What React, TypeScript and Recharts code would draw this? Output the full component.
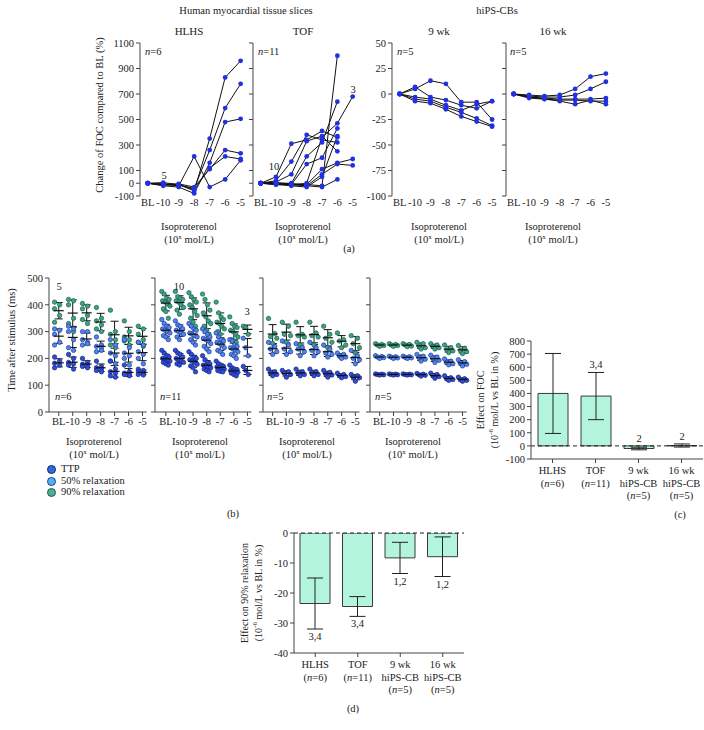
import React from 'react';
import {
  LineChart,
  Line,
  ScatterChart,
  Scatter,
  BarChart,
  Bar,
  XAxis,
  YAxis,
  ErrorBar,
  ReferenceLine,
  LabelList
} from 'recharts';

const conc = ['BL', '-10', '-9', '-8', '-7', '-6', '-5'];

// (a) change of FOC compared to BL (%), one row per slice / CB
const hlhsFoc = [
  [0, -5, -10, -60, 350, 830, 960],
  [0, -10, -15, -40, 260, 590, 780],
  [0, -20, -30, -80, 160, 480, 505],
  [0, -15, -5, -30, 110, 260, 235],
  [0, 5, -10, -50, 120, 210, 190],
  [0, null, -20, 210, -30, 30, 180]
];
const tofFoc = [
  [0, 50, 310, 340, 410, 360, null],
  [0, 20, 170, 380, 340, 320, null],
  [0, 10, 70, 330, 370, 250, null],
  [0, 0, 0, 210, 320, 640, null],
  [0, -10, -10, 150, 200, 430, null],
  [0, 0, -15, 0, 360, 470, 680],
  [0, 5, -5, -10, 110, 160, 190],
  [0, -5, -10, -20, 70, 150, 140],
  [0, -10, -20, -30, 50, 370, null],
  [0, 0, -5, -10, -20, 1000, null],
  [0, null, -10, -20, -30, 30, null]
];
const wk9Foc = [
  [0, 5, 13, 10, -8, -8, -25],
  [0, 7, -3, -6, -11, -14, -7],
  [0, -3, -5, -11, -16, -10, -7],
  [0, -5, -7, -13, -18, -24, -31],
  [0, -7, -9, -15, -22, -27, -32]
];
const wk16Foc = [
  [0, -1, -2, -1, 5, 17, 20],
  [0, -2, -3, -3, -1, 5, 12],
  [0, -3, -4, -5, -5, -5, -4],
  [0, -3, -5, -6, -6, -7, -7],
  [0, -4, -5, -7, -10, -6, -10]
];

// (b) time after stimulus (ms), one row per slice / CB
const hlhs90 = [
  [410, 420, 405, 390, 380, 340, 320],
  [400, 415, 395, 350, 300, 300, 310],
  [385, 400, 385, 340, 290, 280, 290],
  [360, 350, 360, 325, 270, 270, 270],
  [335, 330, 345, 310, 250, 265, 260],
  [null, 300, 330, 300, 240, 250, 245]
];
const hlhs50 = [
  [310, 320, 300, 280, 270, 270, 260],
  [305, 310, 300, 250, 250, 240, 250],
  [290, 300, 270, 245, 220, 220, 225],
  [260, 270, 260, 240, 210, 210, 215],
  [250, 240, 250, 225, 190, 200, 200],
  [null, 230, 255, 230, 180, 175, 180]
];
const hlhsTtp = [
  [205, 215, 200, 190, 190, 175, 160],
  [190, 200, 185, 170, 160, 150, 155],
  [182, 185, 178, 165, 150, 145, 150],
  [175, 180, 175, 160, 145, 140, 145],
  [165, 175, 170, 155, 135, 140, 140],
  [null, 160, 165, 150, 130, 135, 138]
];
const tof90 = [
  [450, 450, 445, 440, 410, 355, 320],
  [440, 430, 430, 420, 370, 330, 315],
  [425, 425, 420, 400, 355, 320, 290],
  [420, 420, 410, 380, 345, 315, null],
  [415, 415, 400, 370, 335, 305, null],
  [410, 410, 390, 355, 330, 300, null],
  [405, 400, 375, 340, 320, 290, null],
  [395, 390, 360, 330, 310, 280, null],
  [385, 380, 350, 320, 300, 270, null],
  [375, 365, 335, 305, 290, 265, null],
  [350, null, 320, 290, 270, 260, null]
];
const tof50 = [
  [345, 340, 330, 310, 295, 270, 275],
  [330, 325, 320, 300, 280, 265, 240],
  [320, 320, 310, 290, 270, 250, 210],
  [315, 310, 305, 280, 265, 245, null],
  [310, 305, 295, 275, 260, 240, null],
  [305, 300, 290, 270, 255, 235, null],
  [300, 295, 285, 265, 250, 230, null],
  [295, 290, 280, 255, 240, 225, null],
  [285, 280, 270, 245, 230, 215, null],
  [280, 270, 260, 235, 225, 210, null],
  [270, null, 250, 225, 215, 200, null]
];
const tofTtp = [
  [230, 230, 225, 210, 190, 175, 170],
  [220, 220, 215, 195, 180, 165, 155],
  [210, 215, 205, 185, 175, 160, 140],
  [205, 205, 200, 180, 170, 158, null],
  [200, 200, 195, 175, 168, 155, null],
  [197, 195, 190, 172, 165, 152, null],
  [193, 190, 185, 168, 162, 150, null],
  [190, 185, 178, 165, 160, 148, null],
  [185, 180, 172, 160, 155, 145, null],
  [180, 175, 165, 155, 152, 140, null],
  [175, null, 150, 150, 150, 135, null]
];
const wk9_90 = [
  [349, 335, 335, 335, 320, 295, 285],
  [293, 320, 290, 295, 290, 270, 275],
  [281, 290, 285, 285, 275, 265, 255],
  [275, 285, 280, 280, 260, 250, 240],
  [256, 260, 250, 250, 240, 240, 220]
];
const wk9_50 = [
  [260, 265, 255, 260, 250, 220, 230],
  [245, 250, 240, 240, 235, 215, 210],
  [235, 235, 235, 230, 220, 210, 200],
  [225, 225, 225, 225, 215, 205, 195],
  [215, 215, 210, 210, 205, 200, 180]
];
const wk9Ttp = [
  [160, 155, 160, 160, 155, 145, 140],
  [150, 150, 150, 150, 148, 140, 135],
  [145, 145, 145, 145, 142, 135, 130],
  [140, 140, 140, 140, 138, 132, 128],
  [135, 130, 135, 135, 130, 128, 115]
];
const wk16_90 = [
  [255, 255, 255, 260, 255, 250, 248],
  [252, 252, 252, 255, 250, 240, 238],
  [250, 250, 250, 245, 245, 232, 230],
  [248, 248, 246, 240, 240, 228, 225],
  [245, 245, 244, 235, 235, 222, 218]
];
const wk16_50 = [
  [210, 208, 208, 215, 212, 198, 195],
  [207, 206, 206, 208, 205, 190, 188],
  [205, 204, 204, 203, 200, 185, 183],
  [203, 202, 202, 197, 193, 180, 178],
  [200, 200, 200, 190, 185, 176, 172]
];
const wk16Ttp = [
  [142, 142, 142, 144, 145, 135, 130],
  [141, 141, 141, 141, 140, 128, 124],
  [140, 140, 140, 139, 136, 124, 120],
  [139, 139, 139, 137, 132, 121, 118],
  [138, 138, 138, 134, 126, 118, 115]
];

// (c), (d) groups
const groupNames = ['HLHS', 'TOF', '9 wk', '16 wk'];
const groupKind = ['', '', 'hiPS-CB', 'hiPS-CB'];
const groupN = [6, 11, 5, 5];
const focEffect = [400, 380, -20, 3];
const focSd = [305, 180, 10, 12];
const focSig = ['', '3,4', '2', '2'];
const relaxEffect = [-23.5, -24.5, -8.3, -7.9];
const relaxSd = [8.5, 3.3, 5.2, 6.6];
const relaxSig = ['3,4', '3,4', '1,2', '1,2'];

const FONT = '"Liberation Serif", "DejaVu Serif", serif';
const AX = '#444';
const TICK = { fill: '#222', fontSize: 10.5, fontFamily: FONT };
const M = 8;
const idx = [0, 1, 2, 3, 4, 5, 6];

const measures = [
  { key: 'r90', fill: '#3da387', stroke: '#1c5e4b' },
  { key: 'r50', fill: '#4f86ea', stroke: '#1f3a9e' },
  { key: 'ttp', fill: '#2f4ddc', stroke: '#17247a' }
];

function box(x0: number, y0: number, x1: number, y1: number, yW: number, xH: number) {
  return {
    position: 'absolute' as const,
    left: x0 - yW,
    top: y0 - M,
    width: x1 - x0 + yW + M,
    height: y1 - y0 + xH + 2 * M
  };
}

function T({ x, y, children, size = 10.5, align = 'center', rot = 0 }: any) {
  const tx = align === 'center' ? '-50%' : align === 'right' ? '-100%' : '0';
  return (
    <div
      style={{
        position: 'absolute',
        left: x,
        top: y,
        transform: `translate(${tx}, -50%) rotate(${rot}deg)`,
        whiteSpace: 'nowrap',
        fontSize: size,
        fontFamily: FONT,
        lineHeight: 1.2,
        textAlign: 'center',
        color: '#222'
      }}
    >
      {children}
    </div>
  );
}

const Iso = ({ x, y }: { x: number; y: number }) => (
  <>
    <T x={x} y={y}>Isoproterenol</T>
    <T x={x} y={y + 13}>
      (10<sup style={{ fontSize: 7 }}>x</sup> mol/L)
    </T>
  </>
);

function FocPlot({ rows, x0, x1, yDomain, yTicks, labels }: any) {
  const yW = 34;
  const xH = 16;
  const b = box(x0, 43, x1, 196, yW, xH);
  const data = conc.map((_, i) => {
    const o: any = { x: i };
    rows.forEach((r: any[], j: number) => (o['s' + j] = r[i]));
    return o;
  });
  return (
    <div style={b}>
      <LineChart width={b.width} height={b.height} data={data} margin={{ top: M, right: M, bottom: M, left: 0 }}>
        <XAxis
          type="number"
          dataKey="x"
          domain={[-0.5, 6.3]}
          ticks={idx}
          interval={0}
          tickFormatter={(i: number) => conc[i]}
          axisLine={false}
          tickLine={false}
          tickSize={0}
          tickMargin={3}
          height={xH}
          tick={TICK}
        />
        <YAxis
          type="number"
          domain={yDomain}
          ticks={yTicks}
          interval={0}
          width={yW}
          stroke={AX}
          tickSize={4}
          tickMargin={2}
          tick={TICK}
          tickFormatter={labels ? undefined : () => ''}
        />
        {rows.map((_: any, j: number) => (
          <Line
            key={j}
            dataKey={'s' + j}
            stroke="#111"
            strokeWidth={1}
            dot={{ r: 2.4, fill: '#2330e0', stroke: 'none' }}
            connectNulls
            isAnimationActive={false}
          />
        ))}
      </LineChart>
    </div>
  );
}

function jitter(j: number, n: number) {
  return (((j * 3) % n) / (n - 1) - 0.5) * 0.6;
}

function points(rows: (number | null)[][]) {
  const out: { x: number; y: number }[] = [];
  rows.forEach((r, j) =>
    r.forEach((v, i) => {
      if (v != null) out.push({ x: i + jitter(j, rows.length), y: v });
    })
  );
  return out;
}

function stats(rows: (number | null)[][]) {
  return conc.map((_, i) => {
    const v = rows.map(r => r[i]).filter((u): u is number => u != null);
    const m = v.reduce((a, c) => a + c, 0) / v.length;
    const sd = Math.sqrt(v.reduce((a, c) => a + (c - m) ** 2, 0) / (v.length - 1));
    return { x: i, y: m, sd };
  });
}

const meanShape = (p: any) => (
  <line x1={p.cx - 5} x2={p.cx + 5} y1={p.cy} y2={p.cy} stroke="#111" strokeWidth={1.2} />
);

function TimePlot({ sets, x0, x1, xMin, labels }: any) {
  const yW = 30;
  const xH = 22;
  const b = box(x0, 278, x1, 412, yW, xH);
  return (
    <div style={b}>
      <ScatterChart width={b.width} height={b.height} margin={{ top: M, right: M, bottom: M, left: 0 }}>
        <XAxis
          type="number"
          dataKey="x"
          domain={[xMin, 6.3]}
          ticks={idx}
          interval={0}
          tickFormatter={(i: number) => conc[i]}
          stroke={AX}
          tickSize={4}
          tickMargin={2}
          height={xH}
          tick={TICK}
        />
        <YAxis
          type="number"
          dataKey="y"
          domain={[0, 500]}
          ticks={[0, 100, 200, 300, 400, 500]}
          interval={0}
          width={yW}
          stroke={AX}
          tickSize={4}
          tickMargin={2}
          tick={TICK}
          tickFormatter={labels ? undefined : () => ''}
        />
        {measures.map(m => (
          <Scatter
            key={m.key}
            data={points(sets[m.key])}
            isAnimationActive={false}
            shape={(p: any) => (
              <circle cx={p.cx} cy={p.cy} r={2.2} fill={m.fill} stroke={m.stroke} strokeWidth={0.7} />
            )}
          />
        ))}
        {measures.map(m => (
          <Scatter key={m.key + 'm'} data={stats(sets[m.key])} isAnimationActive={false} shape={meanShape}>
            <ErrorBar dataKey="sd" direction="y" width={4} stroke="#111" strokeWidth={1} />
          </Scatter>
        ))}
      </ScatterChart>
    </div>
  );
}

const GroupTick = (p: any) => {
  const i = p.index ?? groupNames.indexOf(p.payload.value);
  const lines = [groupNames[i], groupKind[i]].filter(Boolean);
  return (
    <text x={p.x} y={p.y} textAnchor="middle" fontSize={10.5} fontFamily={FONT} fill="#222">
      {lines.map((l, k) => (
        <tspan key={k} x={p.x} dy={k === 0 ? '0.85em' : '1.2em'}>
          {l}
        </tspan>
      ))}
      <tspan x={p.x} dy="1.2em">
        (<tspan fontStyle="italic">n</tspan>={groupN[i]})
      </tspan>
    </text>
  );
};

function sigLabel(vals: number[], sds: number[], above: boolean) {
  return (p: any) => {
    const vb = p.viewBox || {};
    const x = p.x ?? vb.x;
    const y = p.y ?? vb.y;
    const w = p.width ?? vb.width;
    const h = p.height ?? vb.height;
    const i = p.index;
    if (i == null || !p.value) return null;
    const v = vals[i];
    const sd = sds[i];
    const k = Math.abs(h) / Math.abs(v);
    const zero = v >= 0 ? y + h : h < 0 ? y + h : y;
    if (above) {
      const tip = Math.max(v + sd, 0);
      return (
        <text x={x + w / 2} y={zero - tip * k - 4} textAnchor="middle" fontSize={10.5} fontFamily={FONT} fill="#222">
          {p.value}
        </text>
      );
    }
    return (
      <text x={x + w / 2} y={zero + (sd - v) * k + 11} textAnchor="middle" fontSize={10.5} fontFamily={FONT} fill="#222">
        {p.value}
      </text>
    );
  };
}

function EffectPlot({ vals, sds, sig, x0, y0, x1, y1, domain, ticks, above }: any) {
  const yW = 32;
  const xH = 46;
  const b = box(x0, y0, x1, y1, yW, xH);
  const data = groupNames.map((g, i) => ({ name: g, v: vals[i], sd: sds[i], sig: sig[i] }));
  return (
    <div style={b}>
      <BarChart width={b.width} height={b.height} data={data} margin={{ top: M, right: M, bottom: M, left: 0 }}>
        <XAxis dataKey="name" interval={0} stroke={AX} tickSize={4} tickMargin={2} height={xH} tick={<GroupTick />} />
        <YAxis
          type="number"
          domain={domain}
          ticks={ticks}
          interval={0}
          width={yW}
          stroke={AX}
          tickSize={4}
          tickMargin={2}
          tick={TICK}
          allowDataOverflow
        />
        <Bar dataKey="v" fill="#b2f5dc" stroke="#3a3a3a" strokeWidth={1} barSize={30} isAnimationActive={false}>
          <ErrorBar dataKey="sd" direction="y" width={8} stroke="#222" strokeWidth={1} />
          <LabelList dataKey="sig" content={sigLabel(vals, sds, above)} />
        </Bar>
        <ReferenceLine y={0} stroke="#222" strokeDasharray="4 3" />
      </BarChart>
    </div>
  );
}

const Dot = ({ fill, stroke }: any) => (
  <span
    style={{
      display: 'inline-block',
      width: 7,
      height: 7,
      borderRadius: '50%',
      background: fill,
      border: `1px solid ${stroke}`,
      marginRight: 5,
      verticalAlign: 'middle'
    }}
  />
);

export default function App() {
  return (
    <div
      style={{
        position: 'absolute',
        left: 0,
        top: 0,
        width: 704,
        height: 730,
        overflow: 'hidden',
        background: '#fff',
        fontFamily: FONT,
        color: '#222'
      }}
    >
      {/* (a) */}
      <T x={246} y={11}>Human myocardial tissue slices</T>
      <T x={497} y={11}>hiPS-CBs</T>
      <T x={189} y={32} size={11}>HLHS</T>
      <T x={303} y={32} size={11}>TOF</T>
      <T x={439} y={32} size={11}>9 wk</T>
      <T x={553} y={32} size={11}>16 wk</T>
      <T x={100} y={115} rot={-90}>Change of FOC compared to BL (%)</T>

      <FocPlot rows={hlhsFoc} x0={140.3} x1={245.6} yDomain={[-100, 1100]} yTicks={[-100, 0, 100, 300, 500, 700, 900, 1100]} labels />
      <FocPlot rows={tofFoc} x0={253.3} x1={357.6} yDomain={[-100, 1100]} yTicks={[-100, 0, 100, 300, 500, 700, 900, 1100]} />
      <FocPlot rows={wk9Foc} x0={392.3} x1={497} yDomain={[-100, 50]} yTicks={[-100, -75, -50, -25, 0, 25, 50]} labels />
      <FocPlot rows={wk16Foc} x0={505.5} x1={610} yDomain={[-100, 50]} yTicks={[-100, -75, -50, -25, 0, 25, 50]} />

      <T x={145} y={52} align="left"><i>n</i>=6</T>
      <T x={258} y={52} align="left"><i>n</i>=11</T>
      <T x={397} y={52} align="left"><i>n</i>=5</T>
      <T x={510} y={52} align="left"><i>n</i>=5</T>
      <T x={164} y={176}>5</T>
      <T x={274} y={167}>10</T>
      <T x={353} y={90}>3</T>
      <Iso x={189} y={227} />
      <Iso x={303} y={227} />
      <Iso x={439} y={227} />
      <Iso x={553} y={227} />
      <T x={349} y={249}>(a)</T>

      {/* (b) */}
      <T x={12} y={340} rot={-90}>Time after stimulus (ms)</T>
      <TimePlot sets={{ r90: hlhs90, r50: hlhs50, ttp: hlhsTtp }} x0={49.3} x1={147} xMin={-0.7} labels />
      <TimePlot sets={{ r90: tof90, r50: tof50, ttp: tofTtp }} x0={155} x1={251.5} xMin={-0.8} />
      <TimePlot sets={{ r90: wk9_90, r50: wk9_50, ttp: wk9Ttp }} x0={262.5} x1={359} xMin={-0.7} />
      <TimePlot sets={{ r90: wk16_90, r50: wk16_50, ttp: wk16Ttp }} x0={370.3} x1={467} xMin={-0.7} />
      <T x={55} y={397} align="left"><i>n</i>=6</T>
      <T x={160} y={397} align="left"><i>n</i>=11</T>
      <T x={267} y={397} align="left"><i>n</i>=5</T>
      <T x={375} y={397} align="left"><i>n</i>=5</T>
      <T x={59} y={287}>5</T>
      <T x={179} y={287}>10</T>
      <T x={247} y={312}>3</T>
      <Iso x={94} y={442} />
      <Iso x={200} y={442} />
      <Iso x={307} y={442} />
      <Iso x={413} y={442} />
      <div style={{ position: 'absolute', left: 47, top: 463, fontSize: 10.5, lineHeight: '11.5px', fontFamily: FONT }}>
        <div><Dot fill="#2f6ad8" stroke="#17247a" />TTP</div>
        <div><Dot fill="#55b0f0" stroke="#1f3a9e" />50% relaxation</div>
        <div><Dot fill="#4fae98" stroke="#1c5e4b" />90% relaxation</div>
      </div>
      <T x={233} y={514}>(b)</T>

      {/* (c) */}
      <T x={488} y={400} size={10} rot={-90}>
        Effect on FOC
        <br />
        (10<sup style={{ fontSize: 7 }}>-6</sup> mol/L vs BL in %)
      </T>
      <EffectPlot
        vals={focEffect}
        sds={focSd}
        sig={focSig}
        x0={531}
        y0={341}
        x1={703}
        y1={459}
        domain={[-100, 800]}
        ticks={[-100, 0, 100, 200, 300, 400, 500, 600, 700, 800]}
        above
      />
      <T x={680} y={515}>(c)</T>

      {/* (d) */}
      <T x={252} y={593} size={10} rot={-90}>
        Effect on 90% relaxation
        <br />
        (10<sup style={{ fontSize: 7 }}>-6</sup> mol/L vs BL in %)
      </T>
      <EffectPlot
        vals={relaxEffect}
        sds={relaxSd}
        sig={relaxSig}
        x0={294}
        y0={533}
        x1={464}
        y1={653}
        domain={[-40, 0]}
        ticks={[-40, -30, -20, -10, 0]}
        above={false}
      />
      <T x={353} y={709}>(d)</T>
    </div>
  );
}
